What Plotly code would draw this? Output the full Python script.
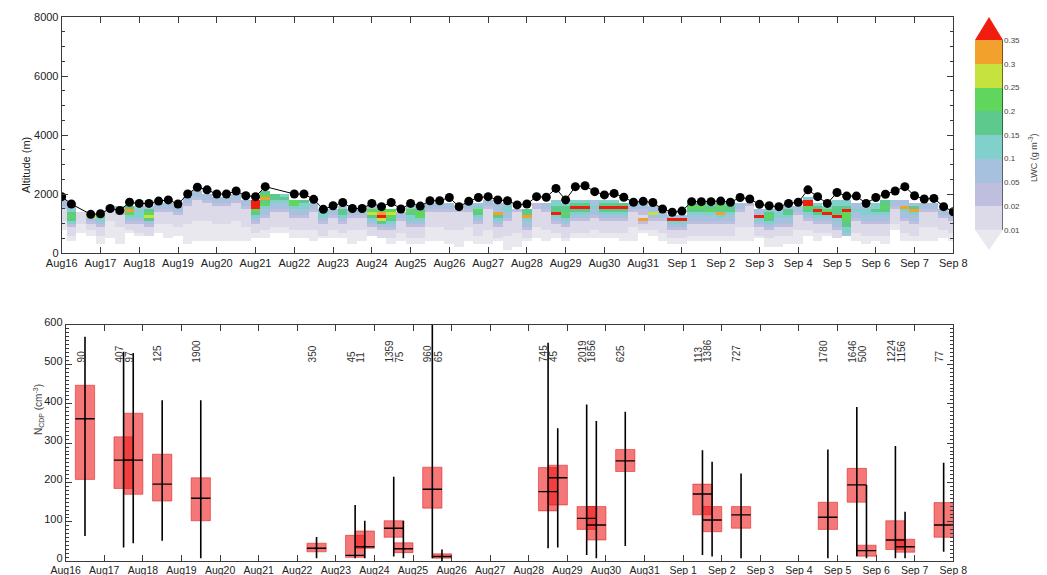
import pandas as pd
import plotly.graph_objects as go

# ---------------------------------------------------------------- data
day_labels = ["Aug16", "Aug17", "Aug18", "Aug19", "Aug20", "Aug21", "Aug22", "Aug23",
              "Aug24", "Aug25", "Aug26", "Aug27", "Aug28", "Aug29", "Aug30", "Aug31",
              "Sep 1", "Sep 2", "Sep 3", "Sep 4", "Sep 5", "Sep 6", "Sep 7", "Sep 8"]
day_ticks = pd.date_range("2012-08-16", "2012-09-08", freq="D")

# 6-hourly sample times (Aug16 00 UTC .. Sep8 00 UTC)
times = pd.date_range("2012-08-16 00:00", "2012-09-08 00:00", freq="6h")

# cloud-top altitude (m) at each 6-hourly time, None = missing
cloud_top_alt = [
    1910, 1660, None, 1310,   # Aug16
    1330, 1510, 1440, 1720,   # Aug17
    1680, 1680, 1760, 1800,   # Aug18
    1660, 2000, 2230, 2140,   # Aug19
    2000, 2000, 2100, 1940,   # Aug20
    1910, 2250, None, None,   # Aug21
    2000, 2000, 1820, 1480,   # Aug22
    1600, 1710, 1510, 1510,   # Aug23
    1680, 1570, 1710, 1490,   # Aug24
    1680, 1590, 1770, 1770,   # Aug25
    1880, 1570, 1750, 1880,   # Aug26
    1910, 1800, 1770, 1630,   # Aug27
    1660, 1910, 1890, 2190,   # Aug28
    1800, 2250, 2280, 2080,   # Aug29
    1970, 2020, 1890, 1720,   # Aug30
    1750, 1710, 1490, 1380,   # Aug31
    1420, 1740, 1740, 1740,   # Sep1
    1760, 1720, 1880, 1830,   # Sep2
    1650, 1600, 1570, 1680,   # Sep3
    1720, 2140, 1910, 1680,   # Sep4
    2050, 1930, 1930, 1680,   # Sep5
    1880, 1990, 2100, 2250,   # Sep6
    1940, 1830, 1850, 1570,   # Sep7
    1400,                     # Sep8
]

# LWC curtain: upper edge (m) of each 6-hourly column and its LWC class,
# one character per 100 m going downward (0 = <0.01 ... 9 = >0.35)
curtain_top = [
    1800, 1700, 1400, 1300,
    1300, 1600, 1600, 1600,
    1600, 1600, 1700, 1700,
    1600, 1900, 2100, 2000,
    1900, 1900, 2000, 1800,
    1800, 2100, 2000, 2000,
    1800, 1800, 1700, 1500,
    1500, 1600, 1500, 1500,
    1600, 1500, 1500, 1400,
    1600, 1600, 1700, 1700,
    1700, 1500, 1700, 1700,
    1800, 1700, 1700, 1500,
    1500, 1700, 1700, 1800,
    1700, 1800, 1800, 1800,
    1800, 1800, 1700, 1700,
    1700, 1600, 1400, 1300,
    1300, 1700, 1700, 1700,
    1700, 1700, 1700, 1700,
    1500, 1500, 1500, 1600,
    1600, 1900, 1700, 1600,
    1800, 1800, 1700, 1600,
    1700, 1800, 1800, 1800,
    1700, 1700, 1700, 1500,
    1400,
]
curtain_codes = [
    "3321111000", "3345654211100", "1111000", "7321100",
    "6432111000", "21111000000", "3321111000000", "586432110",
    "3444321110", "3567532111", "3321111000", "332111100000",
    "3321111000", "3321111110000000", "33211111110000000", "3321111110000000",
    "332111111000000", "332111111000000", "3321111110000000", "33211111100000",
    "9996543211100", "5685643321111000", "5543321111100", "4543321111100",
    "6643321111000", "5443321111000", "3321111110000", "4443211110",
    "3321111000", "35543211100", "332111100000", "33211110000",
    "3675432111", "6897532111", "676543211100", "3321111000",
    "3654432111100", "4566432111100", "3321111100000", "3321111100000",
    "33211111100000", "2111111000000", "3321111100000", "34654321111000",
    "332111111100000", "3338543211110", "3443321111100000", "2111111100000",
    "55843321110", "221111110000", "3321111110000", "4455943211100",
    "4556543211110", "4595432111100", "4595432111100", "3343321111000",
    "4595432111100", "4595432111100", "5954321111000", "3321111100000",
    "3322182110", "3373211100", "3321111000", "3943211100",
    "3943211100", "5654332111100", "5654332111100", "4564332111100",
    "5658432111100", "4554332111100", "3321111100000", "2111111100000",
    "3394321110", "4565432111000", "3443321110000", "3554332111000",
    "3321111100000", "4996543211100", "4595432111000", "4694321110",
    "4455594332111", "445966655443", "3343321111000", "3443321111000",
    "4454332111100", "556543321111000", "3321111100", "33843321111000",
    "3584332111100", "3321111100000", "3321111100000", "3321111000",
    "3321111000",
]

# LWC class boundaries (g m-3) and their colours (under, 8 bands, over)
lwc_levels = ["0.01", "0.02", "0.05", "0.1", "0.15", "0.2", "0.25", "0.3", "0.35"]
band_colors = ["#e9e8ee", "#dcd9e8", "#c0bedf", "#a6c1de", "#82d0cc",
               "#5ec98c", "#60d75c", "#c6e23e", "#f2a12c", "#f01e0e"]

# droplet number concentration statistics per flight (cm-3)
box_time = ["2012-08-16 12:00", "2012-08-17 12:00", "2012-08-17 18:00", "2012-08-18 12:00",
            "2012-08-19 12:00", "2012-08-22 12:00", "2012-08-23 12:00", "2012-08-23 18:00",
            "2012-08-24 12:00", "2012-08-24 18:00", "2012-08-25 12:00", "2012-08-25 18:00",
            "2012-08-28 12:00", "2012-08-28 18:00", "2012-08-29 12:00", "2012-08-29 18:00",
            "2012-08-30 12:00", "2012-09-01 12:00", "2012-09-01 18:00", "2012-09-02 12:00",
            "2012-09-04 18:00", "2012-09-05 12:00", "2012-09-05 18:00", "2012-09-06 12:00",
            "2012-09-06 18:00", "2012-09-07 18:00"]
box_q1 = [208, 185, 170, 153, 103, 24, 10, 33, 61, 22, 135, 8, 128,
          143, 81, 54, 228, 118, 75, 84, 81, 150, 13, 30, 23, 61]
box_median = [362, 257, 257, 196, 160, 33, 15, 37, 84, 32, 183, 12, 177,
              212, 109, 92, 255, 171, 105, 118, 112, 194, 27, 54, 37, 92]
box_q3 = [447, 316, 376, 272, 212, 46, 66, 77, 103, 47, 239, 19, 238,
          244, 139, 139, 284, 196, 139, 139, 150, 236, 41, 103, 56, 149]
box_min = [64, 35, 46, 52, 8, 8, 8, 8, 12, 8, 8, 0, 33,
           35, 16, 8, 39, 16, 12, 8, 8, 13, 8, 8, 8, 24]
box_max = [570, 532, 529, 409, 409, 62, 143, 103, 215, 103, 640, 30, 555,
           338, 398, 356, 380, 282, 253, 223, 284, 392, 194, 293, 126, 250]
box_count = ["90", "407", "97", "125", "1900", "350", "45", "11", "1359", "75", "960", "65",
             "745", "45", "2019", "1856", "625", "113", "1386", "727", "1780", "1646",
             "500", "1224", "1156", "77"]

# ---------------------------------------------------------------- helpers
W, H = 1047, 575
FONT = "Liberation Sans, Arial, sans-serif"
AX = "#3a3a3a"


def px_x(p):
    return p / W


def px_y(p):
    return 1 - p / H


# discrete colour scale: class i -> band_colors[i]
n_cls = len(band_colors)
colorscale = []
for i, c in enumerate(band_colors):
    colorscale.append([i / n_cls, c])
    colorscale.append([(i + 1) / n_cls, c])

# curtain grid (100 m rows)
n_rows = 26
alt_centers = [50 + 100 * r for r in range(n_rows)]
z = [[None] * len(times) for _ in range(n_rows)]
for j, (top, codes) in enumerate(zip(curtain_top, curtain_codes)):
    for k, ch in enumerate(codes):
        if ch == ".":
            continue
        centre = top - 100 * k - 50
        r = int(centre // 100)
        if 0 <= r < n_rows:
            z[r][j] = int(ch)

fig = go.Figure()

# ---------------------------------------------------------------- top panel
fig.add_trace(go.Heatmap(
    x=times, y=alt_centers, z=z, colorscale=colorscale,
    zmin=-0.5, zmax=n_cls - 0.5, showscale=False, hoverinfo="skip",
    xaxis="x", yaxis="y"))

fig.add_trace(go.Scatter(
    x=times, y=cloud_top_alt, mode="lines+markers", connectgaps=True,
    line=dict(color="black", width=1),
    marker=dict(color="black", size=9),
    xaxis="x", yaxis="y", hoverinfo="skip"))

# ---------------------------------------------------------------- colour bar
fig.add_trace(go.Heatmap(
    x=[0, 1], y=list(range(len(lwc_levels))),
    z=[[i] for i in range(1, len(lwc_levels))],
    colorscale=colorscale, zmin=-0.5, zmax=n_cls - 0.5, showscale=False,
    hoverinfo="skip", xaxis="x3", yaxis="y3"))
top_lvl = len(lwc_levels) - 1
fig.add_trace(go.Scatter(
    x=[0, 1, 0.5, 0], y=[top_lvl, top_lvl, top_lvl + 0.97, top_lvl],
    fill="toself", fillcolor=band_colors[-1], mode="none",
    xaxis="x3", yaxis="y3", hoverinfo="skip"))
fig.add_trace(go.Scatter(
    x=[0, 1, 0.5, 0], y=[0, 0, -0.85, 0],
    fill="toself", fillcolor=band_colors[0], mode="none",
    xaxis="x3", yaxis="y3", hoverinfo="skip"))
fig.add_trace(go.Scatter(
    x=[1, 1], y=[0, top_lvl], mode="lines", line=dict(color="black", width=1),
    xaxis="x3", yaxis="y3", hoverinfo="skip"))

# ---------------------------------------------------------------- bottom panel
bt = pd.to_datetime(box_time)
half = pd.Timedelta(hours=6)
fig.add_trace(go.Bar(
    x=bt, base=box_q1, y=[q3 - q1 for q1, q3 in zip(box_q1, box_q3)],
    width=2 * half.total_seconds() * 1000,
    marker=dict(color="rgba(240,20,20,0.58)",
                line=dict(color="rgba(215,0,0,0.45)", width=1)),
    xaxis="x2", yaxis="y2", hoverinfo="skip"))

wx, wy, mx, my = [], [], [], []
for t, lo, hi, md in zip(bt, box_min, box_max, box_median):
    wx += [t, t, None]
    wy += [lo, hi, None]
    mx += [t - half, t + half, None]
    my += [md, md, None]
fig.add_trace(go.Scatter(x=wx, y=wy, mode="lines", line=dict(color="black", width=1.6),
                         xaxis="x2", yaxis="y2", hoverinfo="skip"))
fig.add_trace(go.Scatter(x=mx, y=my, mode="lines", line=dict(color="black", width=1.4),
                         xaxis="x2", yaxis="y2", hoverinfo="skip"))

annotations = []
for t, n in zip(bt, box_count):
    annotations.append(dict(
        x=t, y=500, xref="x2", yref="y2", text=n, showarrow=False,
        textangle=-90, xanchor="center", yanchor="bottom", xshift=-4,
        font=dict(family=FONT, size=10, color="#333")))

annotations += [
    dict(x=px_x(18), y=px_y(135), xref="paper", yref="paper", text="Altitude (m)",
         showarrow=False, textangle=-90, font=dict(family=FONT, size=11, color="#222")),
    dict(x=px_x(30), y=px_y(437), xref="paper", yref="paper",
         text="N<sub>CDP</sub> (cm<sup>-3</sup>)",
         showarrow=False, textangle=-90, font=dict(family=FONT, size=10, color="#444")),
    dict(x=px_x(1041), y=px_y(132), xref="paper", yref="paper",
         text="LWC (g m<sup>-3</sup>)",
         showarrow=False, textangle=-90, font=dict(family=FONT, size=9, color="#444")),
]

xcommon = dict(
    type="date", range=["2012-08-16", "2012-09-08"],
    tickmode="array", tickvals=day_ticks, ticktext=day_labels,
    ticks="inside", ticklen=6, tickcolor=AX, showline=True, linecolor=AX,
    linewidth=1, mirror="ticks", showgrid=False, zeroline=False,
    tickfont=dict(family=FONT, size=11, color="#222"), automargin=False)

fig.update_layout(
    width=W, height=H, margin=dict(l=0, r=0, t=0, b=0),
    paper_bgcolor="white", plot_bgcolor="white", showlegend=False,
    barmode="overlay", annotations=annotations,
    xaxis=dict(xcommon, domain=[px_x(61.7), px_x(953.3)], anchor="y"),
    yaxis=dict(range=[0, 8000], domain=[px_y(253), px_y(17)], anchor="x",
               tickvals=[0, 2000, 4000, 6000, 8000], ticks="inside", ticklen=6,
               tickcolor=AX, showline=True, linecolor=AX, mirror="ticks",
               minor=dict(dtick=500, ticks="inside", ticklen=3, tickcolor=AX),
               showgrid=False, zeroline=False, automargin=False,
               tickfont=dict(family=FONT, size=11, color="#222")),
    xaxis2=dict(xcommon, domain=[px_x(65.7), px_x(953.3)], anchor="y2",
                ticklabelstandoff=-1,
                tickfont=dict(family=FONT, size=10.5, color="#222")),
    yaxis2=dict(range=[0, 600], domain=[px_y(561.3), px_y(325)], anchor="x2",
                dtick=100, ticks="inside", ticklen=6, tickcolor=AX,
                showline=True, linecolor=AX, mirror="ticks", ticklabelshift=-3,
                minor=dict(dtick=10, ticks="inside", ticklen=3, tickcolor=AX),
                showgrid=False, zeroline=False, automargin=False,
                tickfont=dict(family=FONT, size=11, color="#222")),
    xaxis3=dict(domain=[px_x(975), px_x(1003)], range=[0, 1], anchor="y3",
                visible=False, fixedrange=True),
    yaxis3=dict(domain=[px_y(250), px_y(17)], range=[-0.85, top_lvl + 0.97],
                anchor="x3", side="right", tickmode="array",
                tickvals=list(range(len(lwc_levels))), ticktext=lwc_levels,
                ticks="", showline=False, showgrid=False, zeroline=False,
                automargin=False, tickfont=dict(family=FONT, size=8, color="#444")),
)

fig.write_html("out.html")
